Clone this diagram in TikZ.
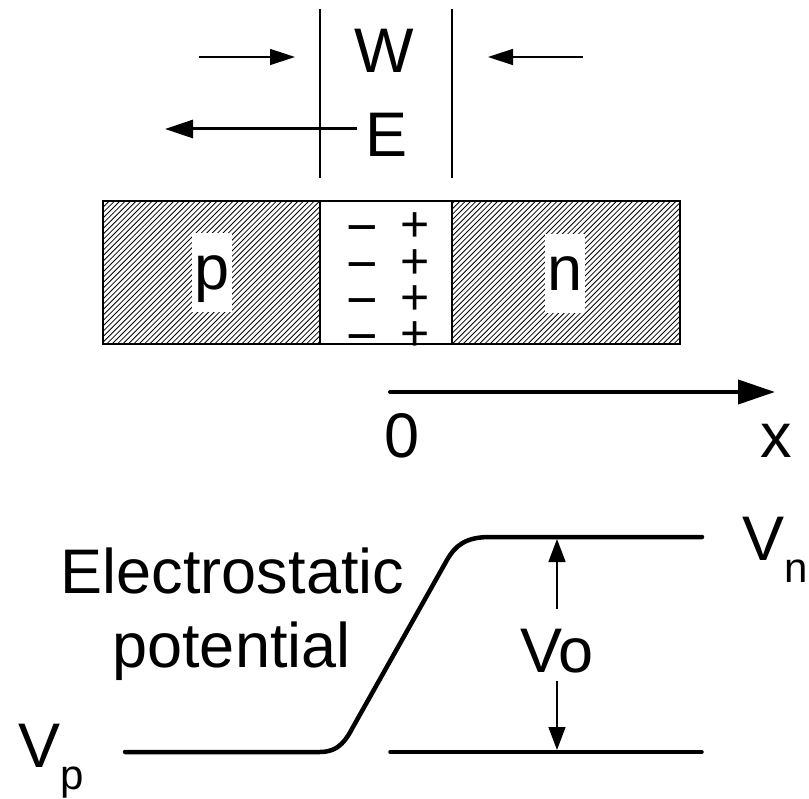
\documentclass[tikz,border=0pt]{standalone}
\usepackage{fontspec}
\setmainfont{Liberation Sans}
\usetikzlibrary{arrows.meta}
\tikzset{
  big/.style={font=\fontsize{63}{74}\selectfont, inner sep=0pt, anchor=base},
  lbl/.style={big, fill=white, text height=57pt, text depth=22pt, minimum width=40pt},
  plussign/.style={font=\fontsize{50}{60}\selectfont, inner sep=0pt, anchor=base, text height=24pt, text depth=0pt},
  minussign/.style={font=\fontsize{54}{60}\selectfont, inner sep=0pt, anchor=base, text height=24pt, text depth=0pt},
  hatch/.style={line width=0.8pt},
  outline/.style={line width=2pt},
  thinarrow/.style={line width=1.5pt, -{Triangle[length=25pt,width=16pt]}},
  earrow/.style={line width=3pt, -{Triangle[length=28pt,width=18pt]}},
  axisarrow/.style={line width=4pt, line cap=round, -{Triangle[length=37pt,width=24pt]}},
  voarrow/.style={line width=1.5pt, -{Triangle[length=23pt,width=17pt]}},
  curve/.style={line width=4.5pt, line cap=round, line join=round},
}
\newcommand{\subs}[1]{\raisebox{-22pt}{\fontsize{42}{50}\selectfont #1}}
\begin{document}
\begin{tikzpicture}[x=1pt,y=-1pt]
\useasboundingbox (0,0) rectangle (809,799);
% hatching
\begin{scope}
  \clip (103,201) rectangle (320,344) (452,201) rectangle (680,344);
  \foreach \k in {0,...,140}{
    \draw[hatch] ({-50+\k*5.4},344) -- ({-50+\k*5.4+145},199);
  }
\end{scope}
% region labels
\node[lbl] (p) at (212,290) {p};
\node[lbl] (n) at (565,291) {n};
% charges
\foreach \y [count=\i] in {224,261,297,333}{
  \node[minussign] (m\i) at (362,\y+22) {−};
  \node[plussign] (q\i) at (415,\y+17.7) {+};
}
% outline
\draw[outline] (103,201) rectangle (680,344);
\draw[outline] (320,201) -- (320,344);
\draw[outline] (452,201) -- (452,344);
% depletion edges
\coordinate (l1) at (320,9); \coordinate (l2) at (320,178);
\coordinate (r1) at (452,9); \coordinate (r2) at (452,178);
\draw[line width=1.5pt] (l1) -- (l2);
\draw[line width=1.5pt] (r1) -- (r2);
% W and arrows
\node[big] (W) at (384,73) {W};
\coordinate (wla) at (199,57); \coordinate (wlb) at (295,57);
\coordinate (wra) at (583,57); \coordinate (wrb) at (488,57);
\draw[thinarrow] (wla) -- (wlb);
\draw[thinarrow] (wra) -- (wrb);
% E field
\node[big, inner xsep=8pt] (E) at (386.5,157) {E};
\coordinate (etip) at (165,129);
\draw[earrow] (E.west |- etip) -- (etip);
% x axis
\coordinate (ax0) at (390,392); \coordinate (ax1) at (775,392);
\draw[axisarrow] (ax0) -- (ax1);
\node[big] (zero) at (402,458) {0};
\node[big] (xl) at (776,458) {x};
% potential
\draw[curve] (125,752) -- (320,752) .. controls (340,752) and (347,738) .. (353,727)
  -- (447,560) .. controls (455,546) and (465,537) .. (490,537) -- (702,537);
\draw[line width=3.5pt, line cap=round] (390,752) -- (702,752);
\node[big] (el) at (232.5,593) {Electrostatic};
\node[big] (pot) at (231.5,667) {potential};
\node[big, text height=63pt, text depth=9pt] (vo) at (557,672) {Vo};
\coordinate (votop) at (557,539);
\coordinate (vobot) at (557,750);
\draw[voarrow] (vo.north) -- (votop);
\draw[voarrow] (vo.south) -- (vobot);
\node[big, anchor=base west] (vp) at (18,767) {V\subs{p}};
\node[big, anchor=base west] (vn) at (742,560) {V\subs{n}};
\end{tikzpicture}
\end{document}
